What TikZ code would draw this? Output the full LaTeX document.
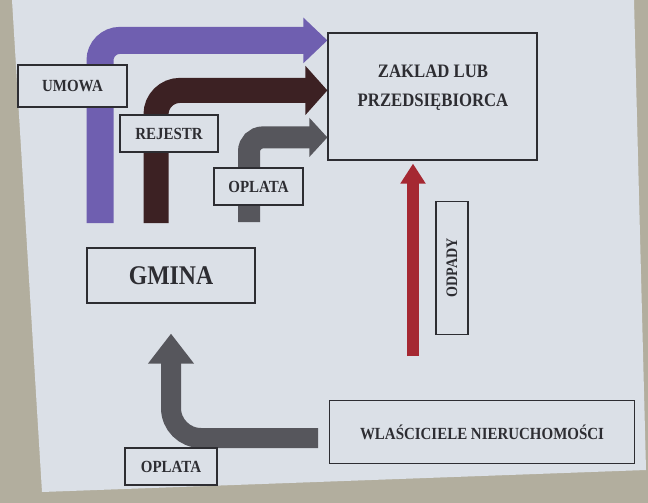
\documentclass[tikz,border=0pt]{standalone}
\usepackage{fontspec}
\setmainfont{Liberation Serif}[FakeStretch=0.88]
\usetikzlibrary{positioning,arrows.meta,calc}

\definecolor{wall}{RGB}{178,174,158}
\definecolor{slide}{RGB}{219,224,231}
\definecolor{ink}{RGB}{45,45,50}
\definecolor{umowacol}{RGB}{111,95,176}
\definecolor{rejestrcol}{RGB}{60,33,35}
\definecolor{oplatacol}{RGB}{86,86,92}
\definecolor{odpadycol}{RGB}{165,40,50}

\begin{document}
\begin{tikzpicture}[x=1pt, y=-1pt,
  lab/.style={draw=ink, line width=1.2pt, fill=slide, text=ink, inner sep=0pt,
              align=center, font=\bfseries\fontsize{17}{20}\selectfont},
  big/.style={lab, font=\bfseries\fontsize{27}{30}\selectfont}
]
% screen and wall
\fill[wall] (0,0) rectangle (648,503);
\fill[slide] (12,0) -- (634,0) -- (646,470) -- (42,492) -- cycle;
\useasboundingbox (0,0) rectangle (648,503);

\node[lab, minimum width=209pt, minimum height=127pt] (zaklad) at (432.5,96.5) {};
\node[text=ink, align=center, font=\bfseries\fontsize{19}{29}\selectfont] (zakladtxt) at (433,88) {ZAKLAD LUB\\PRZEDSIĘBIORCA};
\node[big, minimum width=168pt, minimum height=55pt] (gmina) at (171,275.5) {GMINA};
\node[lab, minimum width=305pt, minimum height=63pt] (wlasc) at (482,432) {WLAŚCICIELE NIERUCHOMOŚCI};
\node[lab, font=\bfseries\fontsize{16}{18}\selectfont, rotate=90, minimum width=133pt, minimum height=32pt] (odpady) at (452,268) {ODPADY};

% free ends of the flows
\coordinate (umowa0) at (100,223);
\coordinate (rejestr0) at (156,223);
\coordinate (oplata0) at (249,222);
\coordinate (odpady0) at (413,356);
\coordinate (wlasc0) at (318,438);

\draw[umowacol, line width=27pt, rounded corners=20pt, -{Triangle[length=24pt,width=44pt]}] (umowa0) |- ([yshift=-8pt]zaklad.north west);
\draw[rejestrcol, line width=25pt, rounded corners=24pt, -{Triangle[length=22pt,width=48pt]}] (rejestr0) |- ([yshift=-58pt]zaklad.north west);
\draw[oplatacol, line width=22pt, rounded corners=14pt, -{Triangle[length=18pt,width=38pt]}] (oplata0) |- ([yshift=-105pt]zaklad.north west);
\draw[odpadycol, line width=12pt, -{Triangle[length=20pt,width=24pt]}] (odpady0) -- ([xshift=-19.5pt,yshift=-3pt]zaklad.south);
\draw[oplatacol, line width=20pt, rounded corners=30pt, -{Triangle[length=30pt,width=44pt]}] (wlasc0) -| ([yshift=-30pt]gmina.south);

% labels on the flows
\node[lab, minimum width=109pt, minimum height=42pt] (umowa) at (72.5,86) {UMOWA};
\node[lab, minimum width=98pt, minimum height=37pt] (rejestr) at (169,133.5) {REJESTR};
\node[lab, minimum width=89pt, minimum height=37pt] (oplata) at (258.5,186.5) {OPLATA};
\node[lab, minimum width=92pt, minimum height=37pt] (oplatab) at (171,466.5) {OPLATA};
\end{tikzpicture}
\end{document}
